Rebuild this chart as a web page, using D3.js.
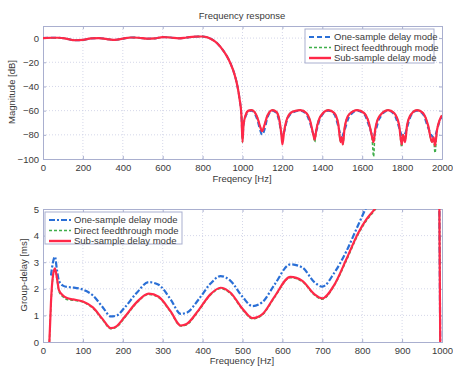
<!DOCTYPE html>
<html><head><meta charset="utf-8">
<script src="https://cdn.jsdelivr.net/npm/d3@7/dist/d3.min.js"></script>
<style>
body{margin:0;background:#fff;}
text{font-family:"Liberation Sans",Arial,sans-serif;}
</style></head>
<body>
<svg id="c" width="453" height="366"></svg>
<script>
// ---------- data ----------
const seriesNames = ["One-sample delay mode","Direct feedthrough mode","Sub-sample delay mode"];
const magXTicks = [0,200,400,600,800,1000,1200,1400,1600,1800,2000];
const magYTicks = [-100,-80,-60,-40,-20,0];
const gdXTicks = [0,100,200,300,400,500,600,700,800,900,1000];
const gdYTicks = [0,1,2,3,4,5];

const magFreq = [0,40,80,120,160,200,240,280,320,360,400,440,480,520,560,600,640,680,720,760,800,820,840,860,880,900,920,940,960,975,985,995,1000,1005,1015,1030,1045,1060,1075,1090,1098,1110,1125,1150,1170,1185,1195,1200,1208,1225,1250,1290,1320,1340,1355,1362,1370,1390,1430,1460,1480,1492,1497,1503,1512,1535,1575,1610,1635,1650,1657,1665,1685,1730,1760,1785,1798,1805,1815,1825,1845,1875,1905,1930,1950,1958,1965,1975,1990,2000];
const magSub = [0,0.3,0.3,-0.6,-1.8,-1.5,-0.3,0,-0.8,-1.5,-0.5,0.5,0.3,-0.5,-0.3,0.8,0.5,-0.2,0.5,1.2,1.3,0.8,-0.5,-2.5,-5.5,-9.5,-14.5,-21,-30,-40,-50,-65,-86,-72,-64,-60,-59.5,-61,-66,-74,-77,-72,-64,-59.5,-61,-68,-80,-88,-78,-66,-61,-59.5,-62,-69,-80,-84,-76,-65,-59.5,-62,-71,-86,-82,-88,-74,-63,-59.5,-62,-71,-82,-86,-76,-65,-59.5,-62,-72,-88,-80,-86,-72,-63,-59.5,-62,-72,-86,-82,-89,-76,-67,-64];
const magOne = [0,0.3,0.3,-0.6,-1.8,-1.5,-0.3,0,-0.8,-1.5,-0.5,0.5,0.3,-0.5,-0.3,0.8,0.5,-0.2,0.5,1.2,1.3,0.8,-0.5,-2.5,-5.5,-9.5,-14.5,-21,-30,-40,-50,-65,-82,-72,-65,-61,-60,-62,-68,-77,-80,-76,-66,-60,-62,-70,-79,-81,-78,-67,-62,-60,-63,-71,-79,-80,-77,-66,-60,-63,-73,-80,-81,-80,-76,-65,-60,-63,-73,-80,-81,-78,-67,-60,-63,-74,-80,-81,-79,-74,-64,-60,-63,-74,-81,-82,-81,-76,-68,-65];
const magDirect = [0,0.3,0.3,-0.6,-1.8,-1.5,-0.3,0,-0.8,-1.5,-0.5,0.5,0.3,-0.5,-0.3,0.8,0.5,-0.2,0.5,1.2,1.3,0.8,-0.5,-2.5,-5.5,-9.5,-14.5,-21,-30,-40,-50,-65,-86,-72,-64,-60,-59.5,-61,-66,-74,-77,-72,-64,-59.5,-61,-68,-80,-84,-78,-66,-61,-59.5,-62,-69,-80,-86,-76,-65,-59.5,-62,-71,-86,-82,-88,-74,-63,-59.5,-62,-71,-84,-98,-76,-65,-59.5,-62,-72,-90,-80,-84,-72,-63,-59.5,-62,-72,-86,-84,-95,-76,-67,-64];

const gdFreq = [16,20,25,30,35,40,50,60,75,100,125,150,170,185,205,235,265,290,320,345,360,390,420,445,470,500,525,550,580,620,650,680,700,730,760,790,810,830,850,900,950,985,990,993,996];
const gdSub = [0,1.5,2.5,2.77,2.4,1.95,1.75,1.65,1.6,1.52,1.3,0.85,0.52,0.6,0.95,1.5,1.82,1.7,1.15,0.62,0.68,1.2,1.8,2.04,1.85,1.25,0.9,1.05,1.7,2.45,2.3,1.8,1.64,2.15,3.1,4.1,4.6,4.97,5.4,7,9,12,14,6,-1];
const gdOne = [null,2.5,3.0,3.2,2.7,2.3,2.12,2.07,2.05,1.97,1.75,1.3,0.96,1.0,1.3,1.85,2.25,2.15,1.6,1.06,1.1,1.6,2.2,2.48,2.3,1.7,1.35,1.5,2.15,2.92,2.8,2.25,2.08,2.6,3.4,4.4,5.05,5.6,6.0,7.5,9.5,12.5,14,6,-1];
const gdDirect = [0,1.4,2.45,2.72,2.35,1.9,1.7,1.6,1.57,1.5,1.27,0.82,0.5,0.57,0.92,1.47,1.79,1.67,1.12,0.6,0.65,1.17,1.77,2.01,1.82,1.22,0.87,1.02,1.67,2.42,2.27,1.77,1.61,2.12,3.05,4.05,4.55,4.93,5.35,6.9,8.9,11.9,13.8,6,-1];

// ---------- styles ----------
const colBlue = "#2a6fd6", colGreen = "#3fae4a", colRed = "#ff2848";
const frameCol = "#a9afcf", gridCol = "#c9cde3", textCol = "#3a3a3a";

const svg = d3.select("#c");

function panel(opt){
  const {x0,x1,y0,y1,xDom,yDom,xTicks,yTicks,id} = opt;
  const x = d3.scaleLinear().domain(xDom).range([x0,x1]);
  const y = d3.scaleLinear().domain(yDom).range([y1,y0]);
  const g = svg.append("g");
  g.append("rect").attr("x",x0).attr("y",y0).attr("width",x1-x0).attr("height",y1-y0).attr("fill","#fff");
  g.append("g").selectAll("line").data(xTicks.filter(t=>t>xDom[0]&&t<xDom[1])).join("line")
    .attr("x1",d=>x(d)).attr("x2",d=>x(d)).attr("y1",y0).attr("y2",y1)
    .attr("stroke",gridCol).attr("stroke-width",0.8).attr("stroke-dasharray","1,2");
  g.append("g").selectAll("line").data(yTicks.filter(t=>t>yDom[0]&&t<yDom[1])).join("line")
    .attr("y1",d=>y(d)).attr("y2",d=>y(d)).attr("x1",x0).attr("x2",x1)
    .attr("stroke",gridCol).attr("stroke-width",0.8).attr("stroke-dasharray","1,2");
  const ax = g.append("g").attr("transform",`translate(0,${y1})`)
    .call(d3.axisBottom(x).tickValues(xTicks).tickSize(-3).tickPadding(5).tickFormat(d3.format("d")));
  const axT = g.append("g").attr("transform",`translate(0,${y0})`)
    .call(d3.axisTop(x).tickValues(xTicks).tickSize(-3).tickFormat(""));
  const ay = g.append("g").attr("transform",`translate(${x0},0)`)
    .call(d3.axisLeft(y).tickValues(yTicks).tickSize(-3).tickPadding(4).tickFormat(d3.format("d")));
  const ayR = g.append("g").attr("transform",`translate(${x1},0)`)
    .call(d3.axisRight(y).tickValues(yTicks).tickSize(-3).tickFormat(""));
  [ax,axT,ay,ayR].forEach(a=>{
    a.selectAll("path").attr("stroke",frameCol).attr("stroke-width",1);
    a.selectAll("line").attr("stroke",frameCol);
    a.selectAll("text").attr("fill",textCol).attr("font-size",9.5);
  });
  svg.append("clipPath").attr("id",id).append("rect").attr("x",x0).attr("y",y0).attr("width",x1-x0).attr("height",y1-y0);
  const plot = svg.append("g").attr("clip-path",`url(#${id})`);
  return {x,y,plot};
}

function drawLine(p, xs, ys, color, width, dash){
  const pts = xs.map((f,i)=>[f,ys[i]]);
  const line = d3.line().defined(d=>d[1]!==null).x(d=>p.x(d[0])).y(d=>p.y(d[1])).curve(d3.curveMonotoneX);
  p.plot.append("path").datum(pts).attr("d",line).attr("fill","none")
    .attr("stroke",color).attr("stroke-width",width).attr("stroke-linejoin","round")
    .attr("stroke-dasharray",dash||null);
}

function legend(lx,ly,w,h,blueDash){
  const g = svg.append("g");
  g.append("rect").attr("x",lx).attr("y",ly).attr("width",w).attr("height",h)
    .attr("fill","#fff").attr("stroke",frameCol).attr("stroke-width",1);
  const styles = [[colBlue,2,blueDash],[colGreen,1.5,"3,2"],[colRed,2.4,null]];
  seriesNames.forEach((n,i)=>{
    const yy = ly+8+i*10.5;
    g.append("line").attr("x1",lx+4).attr("x2",lx+26).attr("y1",yy).attr("y2",yy)
      .attr("stroke",styles[i][0]).attr("stroke-width",styles[i][1]).attr("stroke-dasharray",styles[i][2]);
    g.append("text").attr("x",lx+29).attr("y",yy+3.2).attr("font-size",9.5).attr("fill",textCol).text(n);
  });
}

// ---------- top panel ----------
const magPanel = panel({x0:43,x1:442,y0:26,y1:159,xDom:[0,2000],yDom:[-100,10],xTicks:magXTicks,yTicks:magYTicks,id:"clipTop"});
drawLine(magPanel, magFreq, magOne, colBlue, 2, "5,3");
drawLine(magPanel, magFreq, magDirect, colGreen, 1.5, "3,2");
drawLine(magPanel, magFreq, magSub, colRed, 2.2);
svg.append("text").attr("x",242).attr("y",19).attr("text-anchor","middle").attr("font-size",9.5).attr("fill",textCol).text("Frequency response");
svg.append("text").attr("x",242).attr("y",182).attr("text-anchor","middle").attr("font-size",9.5).attr("fill",textCol).text("Freqency [Hz]");
svg.append("text").attr("transform","translate(15,92) rotate(-90)").attr("text-anchor","middle").attr("font-size",9.5).attr("fill",textCol).text("Magnitude [dB]");
legend(305,29,129,34,"5,3");

// ---------- bottom panel ----------
const gdPanel = panel({x0:43,x1:442,y0:209,y1:342,xDom:[0,1000],yDom:[0,5],xTicks:gdXTicks,yTicks:gdYTicks,id:"clipBot"});
drawLine(gdPanel, gdFreq, gdOne, colBlue, 2.2, "6,2,2,2");
drawLine(gdPanel, gdFreq, gdDirect, colGreen, 1.5, "3,2");
drawLine(gdPanel, gdFreq, gdSub, colRed, 2.2);
svg.append("text").attr("x",242).attr("y",364).attr("text-anchor","middle").attr("font-size",9.5).attr("fill",textCol).text("Frequency [Hz]");
svg.append("text").attr("transform","translate(27,275) rotate(-90)").attr("text-anchor","middle").attr("font-size",9.5).attr("fill",textCol).text("Group-delay [ms]");
legend(45,212,137,32,"6,2,2,2");
</script>
</body></html>
